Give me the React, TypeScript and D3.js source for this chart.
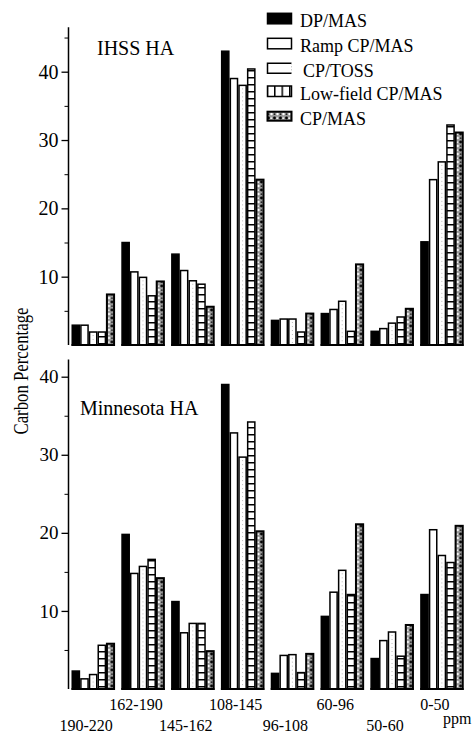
import { useEffect, useRef } from 'react';
import * as d3 from 'd3';

// ppm ranges (chemical shift regions) and methods
const ranges = ['190-220', '162-190', '145-162', '108-145', '96-108', '60-96', '50-60', '0-50'];
const methods = ['DP/MAS', 'Ramp CP/MAS', 'CP/TOSS', 'Low-field CP/MAS', 'CP/MAS'];

// IHSS HA (top panel)
const ihssDP = [2.9, 15.0, 13.3, 43.0, 3.6, 4.6, 2.0, 15.1];
const ihssRamp = [2.9, 10.7, 10.9, 39.0, 3.8, 5.2, 2.4, 24.2];
const ihssToss = [1.9, 9.9, 9.4, 38.0, 3.8, 6.4, 3.2, 26.8];
const ihssLowField = [1.9, 7.2, 8.9, 40.4, 1.9, 2.0, 4.1, 32.2];
const ihssCP = [7.4, 9.3, 5.6, 24.2, 4.6, 11.8, 5.3, 31.1];

// Minnesota HA (bottom panel)
const minnDP = [2.3, 19.8, 11.2, 39.0, 2.0, 9.3, 3.9, 12.1];
const minnRamp = [1.3, 14.8, 7.2, 32.8, 4.3, 12.4, 6.2, 20.4];
const minnToss = [1.85, 15.7, 8.4, 29.7, 4.4, 15.2, 7.3, 17.1];
const minnLowField = [5.6, 16.6, 8.4, 34.2, 2.1, 12.1, 4.2, 16.2];
const minnCP = [5.8, 14.2, 4.85, 20.2, 4.5, 21.1, 8.2, 20.9];

const majorTicks = [10, 20, 30, 40];
const minorTicks = [5, 15, 25, 35, 45];

const W = 473;
const H = 733;
const FONT = "'Liberation Serif', 'Times New Roman', Times, serif";

export default function App() {
  const svgRef = useRef<SVGSVGElement>(null);

  useEffect(() => {
    const svg = d3.select(svgRef.current);
    svg.selectAll('*').remove();

    const defs = svg.append('defs');
    // ladder rungs for low-field bars
    const lf = defs.append('pattern').attr('id', 'lf').attr('patternUnits', 'userSpaceOnUse')
      .attr('width', 20).attr('height', 7);
    lf.append('rect').attr('width', 20).attr('height', 7).attr('fill', '#fff');
    lf.append('line').attr('x1', 0).attr('x2', 20).attr('y1', 0.75).attr('y2', 0.75)
      .attr('stroke', '#000').attr('stroke-width', 1.5);
    const lfv = defs.append('pattern').attr('id', 'lfv').attr('patternUnits', 'userSpaceOnUse')
      .attr('width', 7.5).attr('height', 20).attr('x', 266.5);
    lfv.append('rect').attr('width', 7.5).attr('height', 20).attr('fill', '#fff');
    lfv.append('line').attr('y1', 0).attr('y2', 20).attr('x1', 0.75).attr('x2', 0.75)
      .attr('stroke', '#000').attr('stroke-width', 1.5);
    // speckled fill for CP/MAS
    const cp = defs.append('pattern').attr('id', 'cp').attr('patternUnits', 'userSpaceOnUse')
      .attr('width', 6).attr('height', 8);
    cp.append('rect').attr('width', 6).attr('height', 8).attr('fill', '#9a9a9a');
    cp.append('circle').attr('cx', 1.5).attr('cy', 2).attr('r', 1.2).attr('fill', '#fff');
    cp.append('circle').attr('cx', 4.5).attr('cy', 6).attr('r', 1.4).attr('fill', '#000');
    cp.append('circle').attr('cx', 4.5).attr('cy', 2.2).attr('r', 0.9).attr('fill', '#222');
    cp.append('circle').attr('cx', 1.2).attr('cy', 6.2).attr('r', 0.9).attr('fill', '#f2f2f2');

    const x = d3.scaleBand().domain(ranges).range([68, 467]).paddingInner(0.13).paddingOuter(0.07);
    const xs = d3.scaleBand().domain(methods).range([0, x.bandwidth()]);

    const fills: Record<string, string> = {
      'DP/MAS': '#000',
      'Ramp CP/MAS': '#fff',
      'CP/TOSS': '#fff',
      'Low-field CP/MAS': 'url(#lf)',
      'CP/MAS': 'url(#cp)',
    };

    const panels = [
      {
        name: 'IHSS HA', series: [ihssDP, ihssRamp, ihssToss, ihssLowField, ihssCP],
        y: d3.scaleLinear().domain([0, 40]).range([345, 71.7]), top: 46.5,
        tickSize: 20, titleX: 97, titleY: 55,
      },
      {
        name: 'Minnesota HA', series: [minnDP, minnRamp, minnToss, minnLowField, minnCP],
        y: d3.scaleLinear().domain([0, 40]).range([689, 376.7]), top: 42.2,
        tickSize: 19, titleX: 80, titleY: 415,
      },
    ];

    panels.forEach(p => {
      const g = svg.append('g');
      const y = p.y;

      // y axis
      const ax = g.append('g').attr('transform', 'translate(68.5,0)')
        .call(d3.axisLeft(y).tickValues(majorTicks).tickSize(7).tickSizeOuter(0).tickPadding(3).tickFormat(d3.format('d')));
      ax.select('.domain').attr('d', `M0,${y(p.top)}V${y(0)}`).attr('stroke-width', 1.5);
      ax.selectAll('.tick line').attr('stroke-width', 1.3);
      ax.selectAll('.tick text').attr('font-size', p.tickSize).attr('fill', '#000');
      ax.attr('font-family', null);
      g.append('g').attr('transform', 'translate(68.5,0)')
        .call(d3.axisLeft(y).tickValues(minorTicks.filter(t => t < p.top)).tickSize(4).tickFormat(() => ''))
        .call(s => s.select('.domain').remove());

      // bars
      const rows = ranges.map((r, i) => ({ r, vals: methods.map((m, k) => ({ m, v: p.series[k][i] })) }));
      const grp = g.selectAll('.grp').data(rows).enter().append('g')
        .attr('transform', d => `translate(${x(d.r)},0)`);
      grp.selectAll('rect').data(d => d.vals).enter().append('rect')
        .attr('x', d => (xs(d.m) as number) + 0.75)
        .attr('y', d => y(d.v))
        .attr('width', xs.bandwidth() - 1.5)
        .attr('height', d => y(0) - y(d.v))
        .attr('fill', d => fills[d.m])
        .attr('stroke', '#000')
        .attr('stroke-width', d => (d.m === 'CP/MAS' ? 2 : 1.5));
      // faint dotted centre line inside CP/TOSS bars
      grp.selectAll('line.toss').data(d => d.vals.filter(v => v.m === 'CP/TOSS')).enter().append('line')
        .attr('x1', d => (xs(d.m) as number) + xs.bandwidth() / 2)
        .attr('x2', d => (xs(d.m) as number) + xs.bandwidth() / 2)
        .attr('y1', d => y(d.v) + 3)
        .attr('y2', y(0) - 2)
        .attr('stroke', '#aaa').attr('stroke-width', 0.8).attr('stroke-dasharray', '1,3');
      // base line under each group
      grp.append('line').attr('x1', 0).attr('x2', x.bandwidth()).attr('y1', y(0)).attr('y2', y(0))
        .attr('stroke', '#000').attr('stroke-width', 2);

      g.append('text').attr('x', p.titleX).attr('y', p.titleY).attr('font-size', 20).text(p.name);
    });

    // axis title
    svg.append('text').attr('transform', 'translate(28,371) rotate(-90)').attr('text-anchor', 'middle')
      .attr('font-size', 20).attr('textLength', 127)
      .attr('lengthAdjust', 'spacingAndGlyphs').text('Carbon Percentage');

    // category labels, staggered in two rows
    svg.selectAll('.xl').data(ranges).enter().append('text')
      .attr('x', d => (x(d) as number) + x.bandwidth() / 2 - 7)
      .attr('y', (d, i) => (i % 2 === 1 ? 710 : 731))
      .attr('text-anchor', 'middle').attr('font-size', 16)
      .text(d => d);
    svg.append('text').attr('x', 443).attr('y', 724).attr('font-size', 16).text('ppm');

    // legend
    const legTop = [13.3, 38.3, 63.3, 86, 111.7];
    const legBase = [27.3, 51.7, 76.7, 100, 125];
    const leg = svg.append('g');
    methods.forEach((m, i) => {
      const t = legTop[i];
      if (m === 'CP/TOSS') {
        leg.append('path').attr('d', `M291.5,${t}H267.5V${t + 10}H291.5`).attr('fill', 'none')
          .attr('stroke', '#000').attr('stroke-width', 1.5);
        leg.append('line').attr('x1', 291.5).attr('x2', 291.5).attr('y1', t).attr('y2', t + 10)
          .attr('stroke', '#aaa').attr('stroke-width', 0.8).attr('stroke-dasharray', '1,2');
      } else {
        leg.append('rect').attr('x', 267.5).attr('y', t).attr('width', 24).attr('height', m === 'CP/MAS' ? 9 : 10.5)
          .attr('fill', m === 'Low-field CP/MAS' ? 'url(#lfv)' : fills[m])
          .attr('stroke', '#000').attr('stroke-width', m === 'CP/MAS' ? 2 : 1.5);
      }
      leg.append('text').attr('x', m === 'CP/TOSS' ? 303 : 300).attr('y', legBase[i])
        .attr('font-size', 18).text(m);
    });
  }, []);

  return (
    <svg ref={svgRef} width={W} height={H}
      style={{ position: 'absolute', left: 0, top: 0, background: '#fff', fontFamily: FONT }} />
  );
}
